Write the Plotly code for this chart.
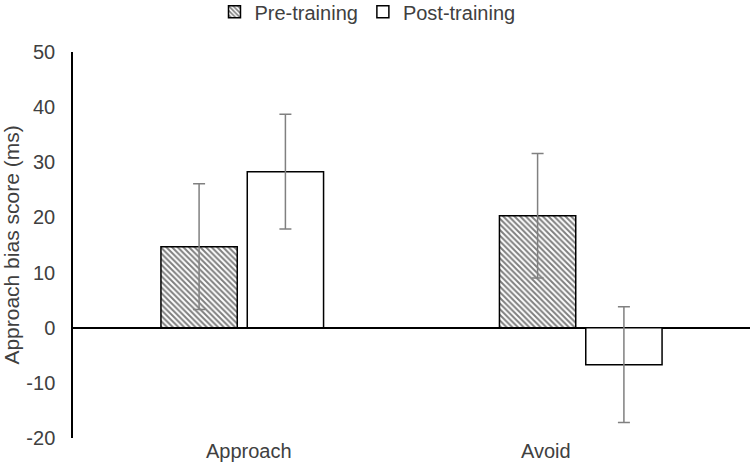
import plotly.graph_objects as go

categories = ["Approach", "Avoid"]
pre_values = [14.7, 20.3]
pre_errors = [11.4, 11.3]
post_values = [28.3, -6.7]
post_errors = [10.4, 10.5]
y_ticks = [-20, -10, 0, 10, 20, 30, 40, 50]
y_tick_labels = ["-20", "-10", "0", "10", "20", "30", "40", "50"]
label_shifts = [7, -35]

font = "Liberation Sans, Arial, sans-serif"
txt = "#404040"

fig = go.Figure()
fig.add_trace(go.Bar(
    name="Pre-training", x=categories, y=pre_values,
    marker=dict(color="white", line=dict(color="black", width=1.5),
                pattern=dict(shape="\\", fgcolor="black", bgcolor="white", size=4, solidity=0.5)),
    error_y=dict(type="data", array=pre_errors, visible=True, color="#808080", thickness=1.5, width=6),
))
fig.add_trace(go.Bar(
    name="Post-training", x=categories, y=post_values,
    marker=dict(color="white", line=dict(color="black", width=1.5)),
    error_y=dict(type="data", array=post_errors, visible=True, color="#808080", thickness=1.5, width=6),
))

for cat, shift in zip(categories, label_shifts):
    fig.add_annotation(x=cat, xref="x", y=0, yref="paper", yanchor="top", xanchor="center",
                       text=cat, showarrow=False, xshift=shift, yshift=0,
                       font=dict(size=20, color=txt, family=font))

fig.update_layout(
    width=750, height=464,
    margin=dict(l=73, r=0, t=52, b=26, autoexpand=False),
    paper_bgcolor="white", plot_bgcolor="white",
    font=dict(family=font, size=20, color=txt),
    barmode="group", bargap=0.49, bargroupgap=0.116,
    legend=dict(orientation="h", x=0.435, xanchor="center", y=1.104, yanchor="middle",
                font=dict(size=20, color=txt), itemwidth=30, traceorder="normal"),
    showlegend=True,
)
fig.update_xaxes(showline=False, showgrid=False, ticks="", showticklabels=False)
fig.update_yaxes(range=[-20, 50], tickvals=y_ticks, ticktext=y_tick_labels, showgrid=False, showline=True,
                 linecolor="black", linewidth=1.5, zeroline=True, zerolinecolor="black",
                 zerolinewidth=1.5, ticks="", ticklabelstandoff=12,
                 title=dict(text="Approach bias score (ms)", font=dict(size=21, color=txt), standoff=4),
                 tickfont=dict(size=20, color=txt))

fig.write_html("out.html", post_script="document.body.style.margin='0';",
               config={"displayModeBar": False})
